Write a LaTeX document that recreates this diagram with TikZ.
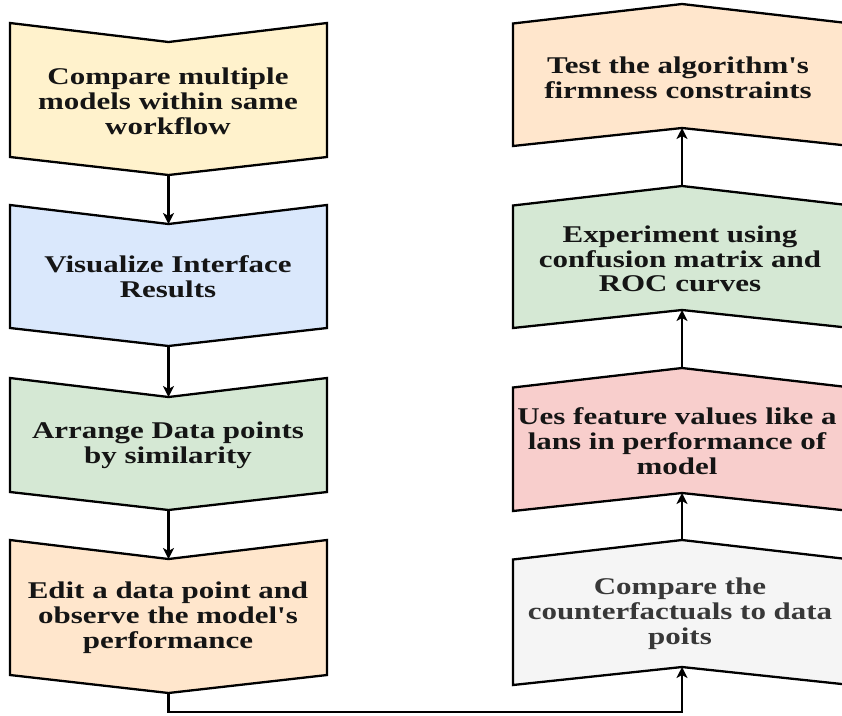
\documentclass[tikz,border=0pt]{standalone}
\usepackage{fontspec}
\newfontfamily\boxfont{Liberation Serif}[FakeStretch=1.29]
\usetikzlibrary{arrows.meta}
\definecolor{cyellow}{HTML}{FFF2CC}
\definecolor{cblue}{HTML}{DAE8FC}
\definecolor{cgreen}{HTML}{D5E8D4}
\definecolor{corange}{HTML}{FFE6CC}
\definecolor{cred}{HTML}{F8CECC}
\definecolor{cgray}{HTML}{F5F5F5}
\definecolor{ctext}{HTML}{151515}
\tikzset{
  shapeline/.style={draw=black, line width=2.3pt, line join=miter},
  label/.style={font=\boxfont\bfseries\fontsize{24}{24.8}\selectfont, text=ctext, align=center, inner sep=0pt},
  link/.style={draw=black, line width=2.3pt, -{Stealth[length=11pt,width=11pt,inset=3pt]}},
}
% down chevron: #1 = top y, #2 = bottom corners y, #3 fill, #4 name
\newcommand{\downbox}[4]{%
  \coordinate (#4in) at (168.5,#1+19);
  \coordinate (#4out) at (168.5,#2+18);
  \filldraw[shapeline, fill=#3] (10,#1) -- (#4in) -- (327,#1) -- (327,#2) -- (#4out) -- (10,#2) -- cycle;
}
% up chevron: #1 = apex y, #2 = bottom notch y, #3 fill, #4 name
\newcommand{\upbox}[4]{%
  \coordinate (#4out) at (682,#1);
  \coordinate (#4in) at (682,#2);
  \filldraw[shapeline, fill=#3] (513,#1+19.5) -- (#4out) -- (851,#1+19.5) -- (851,#2+18) -- (#4in) -- (513,#2+18) -- cycle;
}
\begin{document}
\begin{tikzpicture}[x=1pt,y=-1pt]
\fill[white] (0,0) rectangle (842,715);
\useasboundingbox (0,0) rectangle (842,715);
\clip (0,0) rectangle (842,715);

% left column
\downbox{23}{157}{cyellow}{a}
\downbox{205}{328}{cblue}{b}
\downbox{378}{492}{cgreen}{c}
\downbox{540}{675}{corange}{d}

% right column
\upbox{4}{128}{corange}{h}
\upbox{186}{310}{cgreen}{g}
\upbox{368}{493}{cred}{f}
\upbox{540}{667}{cgray}{e}

% texts
\node[label] (ta) at (168,101) {Compare multiple\\models within same\\workflow};
\node[label] (tb) at (168,277) {Visualize Interface\\Results};
\node[label] (tc) at (168,445) {Arrange Data points\\by similarity};
\node[label] (td) at (168,618) {Edit a data point and\\observe the model's\\performance};
\node[label] (th) at (678,78) {Test the algorithm's\\firmness constraints};
\node[label] (tg) at (680,259) {Experiment using\\confusion matrix and\\ROC curves};
\node[label] (tf) at (677,441) {Ues feature values like a\\lans in performance of\\model};
\node[label, text=black!78] (te) at (680,614) {Compare the\\counterfactuals to data\\poits};

% connectors
\draw[link] (aout) -- (bin);
\draw[link] (bout) -- (cin);
\draw[link] (cout) -- (din);
\coordinate (turn) at (168.5,712);
\draw[link] (dout) -- (turn) -| (ein);
\draw[link] (eout) -- (fin);
\draw[link] (fout) -- (gin);
\draw[link] (gout) -- (hin);
\end{tikzpicture}
\end{document}
